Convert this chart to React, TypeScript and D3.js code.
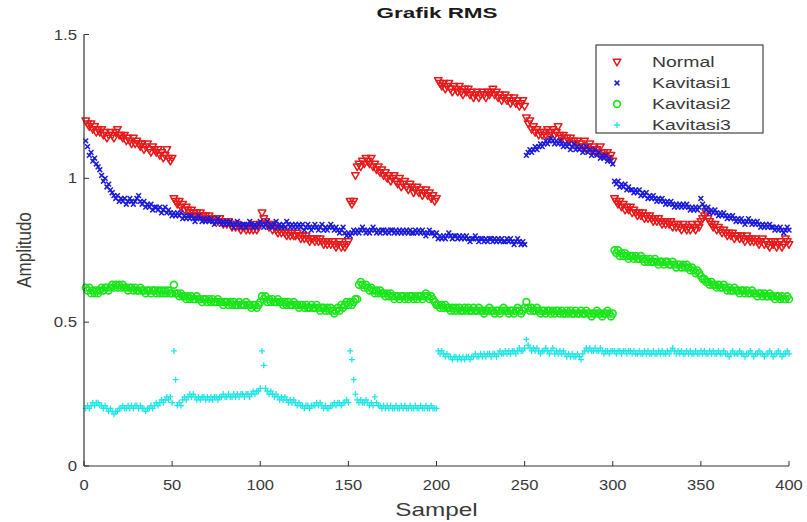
import React from "react";
import * as d3 from "d3";

const NORMAL = [
1.20,1.19,1.18,1.19,1.17,1.18,1.16,1.17,1.16,1.17,
1.15,1.16,1.14,1.15,1.16,1.15,1.14,1.16,1.17,1.15,
1.15,1.14,1.15,1.13,1.14,1.13,1.12,1.14,1.12,1.13,
1.12,1.11,1.12,1.10,1.11,1.12,1.10,1.09,1.11,1.10,
1.09,1.10,1.08,1.09,1.07,1.08,1.10,1.07,1.06,1.07,
0.93,0.92,0.91,0.92,0.90,0.91,0.89,0.90,0.89,0.88,
0.89,0.88,0.87,0.88,0.87,0.88,0.87,0.86,0.87,0.86,
0.87,0.86,0.86,0.85,0.86,0.85,0.86,0.85,0.84,0.85,
0.84,0.85,0.84,0.83,0.84,0.83,0.84,0.83,0.82,0.83,
0.83,0.82,0.83,0.82,0.83,0.82,0.84,0.82,0.83,0.84,
0.88,0.86,0.85,0.84,0.83,0.84,0.82,0.83,0.82,0.81,
0.82,0.81,0.82,0.81,0.80,0.81,0.80,0.81,0.80,0.80,
0.81,0.80,0.79,0.80,0.79,0.80,0.79,0.78,0.79,0.79,
0.78,0.79,0.78,0.79,0.78,0.77,0.78,0.77,0.78,0.77,
0.78,0.77,0.76,0.77,0.78,0.76,0.77,0.76,0.77,0.78,
0.92,0.91,0.92,1.01,1.04,1.05,1.04,1.06,1.05,1.07,
1.06,1.05,1.07,1.04,1.05,1.03,1.04,1.02,1.03,1.01,
1.02,1.00,1.01,0.99,1.00,1.01,0.99,0.98,1.00,0.97,
0.98,0.99,0.97,0.96,0.98,0.97,0.95,0.96,0.97,0.95,
0.96,0.94,0.95,0.96,0.94,0.95,0.93,0.94,0.92,0.93,
1.34,1.33,1.32,1.33,1.31,1.32,1.33,1.31,1.30,1.32,
1.31,1.30,1.32,1.30,1.29,1.31,1.30,1.31,1.29,1.30,
1.28,1.29,1.30,1.28,1.29,1.30,1.29,1.28,1.30,1.29,
1.30,1.31,1.29,1.30,1.28,1.29,1.27,1.28,1.29,1.27,
1.28,1.26,1.27,1.28,1.26,1.27,1.25,1.26,1.27,1.25,
1.21,1.19,1.20,1.17,1.18,1.16,1.17,1.15,1.16,1.15,
1.16,1.15,1.17,1.15,1.16,1.17,1.15,1.16,1.18,1.15,
1.14,1.15,1.13,1.14,1.13,1.14,1.12,1.13,1.12,1.13,
1.11,1.12,1.11,1.13,1.10,1.11,1.12,1.10,1.11,1.09,
1.10,1.09,1.11,1.08,1.09,1.08,1.09,1.07,1.08,1.06,
0.93,0.92,0.91,0.92,0.90,0.91,0.89,0.90,0.89,0.90,
0.88,0.89,0.88,0.87,0.88,0.87,0.88,0.86,0.87,0.86,
0.87,0.86,0.85,0.86,0.85,0.86,0.85,0.84,0.85,0.84,
0.85,0.84,0.85,0.83,0.84,0.83,0.84,0.83,0.82,0.84,
0.83,0.82,0.83,0.82,0.84,0.83,0.82,0.84,0.83,0.85,
0.86,0.87,0.88,0.86,0.85,0.84,0.83,0.84,0.82,0.83,
0.82,0.81,0.82,0.81,0.80,0.81,0.80,0.81,0.79,0.80,
0.80,0.79,0.80,0.79,0.78,0.80,0.79,0.78,0.79,0.78,
0.79,0.78,0.77,0.78,0.79,0.77,0.78,0.77,0.76,0.78,
0.77,0.78,0.76,0.77,0.78,0.76,0.77,0.79,0.78,0.77,
];

const KAVITASI1 = [
1.13,1.11,1.08,1.09,1.06,1.07,1.05,1.04,1.03,1.01,
0.99,1.00,0.97,0.98,0.96,0.95,0.94,0.93,0.94,0.92,
0.93,0.92,0.93,0.91,0.92,0.93,0.92,0.91,0.92,0.93,
0.94,0.92,0.91,0.92,0.90,0.91,0.90,0.91,0.89,0.90,
0.90,0.89,0.90,0.88,0.89,0.90,0.88,0.89,0.88,0.87,
0.88,0.87,0.88,0.87,0.88,0.86,0.87,0.86,0.87,0.86,
0.87,0.86,0.85,0.86,0.87,0.86,0.85,0.86,0.85,0.86,
0.85,0.86,0.85,0.84,0.85,0.86,0.85,0.84,0.85,0.84,
0.85,0.84,0.85,0.84,0.83,0.84,0.85,0.84,0.83,0.84,
0.84,0.83,0.84,0.85,0.84,0.83,0.84,0.83,0.84,0.85,
0.84,0.83,0.84,0.85,0.83,0.84,0.83,0.84,0.85,0.83,
0.84,0.83,0.84,0.83,0.85,0.84,0.83,0.84,0.83,0.84,
0.83,0.84,0.83,0.84,0.82,0.83,0.84,0.83,0.82,0.83,
0.84,0.83,0.82,0.83,0.84,0.82,0.83,0.82,0.83,0.84,
0.83,0.82,0.83,0.82,0.81,0.82,0.83,0.81,0.80,0.81,
0.80,0.81,0.82,0.81,0.82,0.81,0.82,0.83,0.82,0.81,
0.82,0.81,0.82,0.83,0.82,0.81,0.82,0.81,0.82,0.82,
0.81,0.82,0.81,0.82,0.82,0.81,0.82,0.81,0.82,0.81,
0.82,0.81,0.82,0.81,0.82,0.81,0.81,0.82,0.81,0.82,
0.81,0.82,0.81,0.80,0.81,0.82,0.81,0.81,0.80,0.81,
0.79,0.80,0.79,0.80,0.79,0.80,0.81,0.80,0.79,0.80,
0.80,0.79,0.80,0.79,0.80,0.79,0.80,0.79,0.78,0.79,
0.79,0.80,0.79,0.78,0.79,0.79,0.78,0.79,0.78,0.79,
0.79,0.78,0.79,0.78,0.79,0.78,0.79,0.78,0.78,0.79,
0.78,0.79,0.78,0.77,0.78,0.79,0.78,0.77,0.78,0.77,
1.08,1.09,1.10,1.09,1.10,1.11,1.10,1.11,1.12,1.11,
1.12,1.13,1.12,1.13,1.14,1.13,1.12,1.13,1.12,1.13,
1.12,1.11,1.12,1.11,1.12,1.10,1.11,1.12,1.10,1.11,
1.10,1.11,1.09,1.10,1.11,1.09,1.10,1.08,1.09,1.10,
1.08,1.09,1.07,1.08,1.07,1.08,1.06,1.07,1.06,1.05,
0.99,0.98,0.99,0.97,0.98,0.97,0.98,0.96,0.97,0.96,
0.96,0.95,0.96,0.95,0.96,0.94,0.95,0.94,0.95,0.93,
0.94,0.93,0.94,0.93,0.92,0.93,0.92,0.93,0.92,0.91,
0.92,0.91,0.92,0.91,0.90,0.91,0.90,0.91,0.90,0.91,
0.90,0.91,0.90,0.89,0.90,0.89,0.90,0.89,0.90,0.93,
0.91,0.90,0.89,0.90,0.88,0.89,0.88,0.89,0.88,0.87,
0.88,0.87,0.88,0.87,0.86,0.87,0.86,0.87,0.86,0.85,
0.86,0.85,0.86,0.85,0.84,0.85,0.86,0.85,0.84,0.85,
0.84,0.85,0.84,0.83,0.84,0.83,0.84,0.83,0.84,0.83,
0.83,0.82,0.83,0.82,0.83,0.82,0.81,0.82,0.83,0.82,
];

const KAVITASI2 = [
0.62,0.61,0.62,0.60,0.61,0.60,0.61,0.60,0.61,0.62,
0.61,0.62,0.62,0.61,0.62,0.63,0.62,0.63,0.62,0.63,
0.62,0.63,0.62,0.62,0.61,0.62,0.62,0.61,0.62,0.61,
0.61,0.62,0.61,0.61,0.60,0.61,0.61,0.60,0.61,0.61,
0.60,0.61,0.60,0.61,0.60,0.61,0.60,0.61,0.60,0.60,
0.63,0.60,0.60,0.59,0.60,0.59,0.59,0.58,0.59,0.58,
0.59,0.58,0.58,0.59,0.58,0.58,0.57,0.58,0.58,0.57,
0.58,0.57,0.58,0.57,0.57,0.58,0.57,0.57,0.56,0.57,
0.57,0.56,0.57,0.56,0.57,0.56,0.56,0.57,0.56,0.56,
0.56,0.57,0.56,0.56,0.55,0.56,0.56,0.55,0.56,0.57,
0.59,0.58,0.59,0.57,0.58,0.57,0.58,0.57,0.57,0.58,
0.57,0.57,0.56,0.57,0.56,0.57,0.56,0.56,0.57,0.56,
0.56,0.55,0.56,0.56,0.55,0.56,0.55,0.55,0.56,0.55,
0.55,0.56,0.55,0.54,0.55,0.55,0.54,0.55,0.54,0.55,
0.54,0.53,0.54,0.55,0.54,0.56,0.55,0.56,0.57,0.56,
0.57,0.56,0.57,0.58,0.58,0.63,0.64,0.63,0.62,0.63,
0.62,0.61,0.62,0.61,0.60,0.61,0.60,0.61,0.60,0.60,
0.59,0.60,0.59,0.60,0.59,0.58,0.59,0.59,0.58,0.59,
0.59,0.58,0.59,0.58,0.59,0.59,0.58,0.59,0.58,0.59,
0.59,0.58,0.59,0.60,0.59,0.58,0.59,0.58,0.57,0.56,
0.56,0.55,0.56,0.55,0.56,0.55,0.55,0.54,0.55,0.54,
0.55,0.54,0.55,0.54,0.54,0.55,0.54,0.55,0.54,0.54,
0.55,0.54,0.54,0.55,0.54,0.54,0.53,0.54,0.54,0.55,
0.54,0.54,0.53,0.54,0.54,0.53,0.54,0.55,0.54,0.54,
0.53,0.54,0.54,0.53,0.54,0.55,0.54,0.53,0.54,0.55,
0.57,0.55,0.54,0.55,0.54,0.54,0.55,0.54,0.53,0.54,
0.54,0.53,0.54,0.54,0.53,0.54,0.53,0.54,0.54,0.53,
0.54,0.53,0.53,0.54,0.53,0.54,0.53,0.53,0.54,0.53,
0.53,0.54,0.53,0.53,0.54,0.53,0.53,0.52,0.53,0.53,
0.54,0.53,0.53,0.52,0.53,0.53,0.54,0.53,0.52,0.53,
0.75,0.74,0.75,0.73,0.74,0.73,0.74,0.73,0.72,0.73,
0.73,0.72,0.73,0.72,0.72,0.73,0.72,0.71,0.72,0.71,
0.72,0.71,0.71,0.72,0.71,0.70,0.71,0.71,0.70,0.71,
0.71,0.70,0.70,0.71,0.70,0.69,0.70,0.70,0.69,0.70,
0.69,0.70,0.69,0.68,0.69,0.68,0.67,0.68,0.67,0.66,
0.65,0.65,0.64,0.64,0.63,0.64,0.63,0.63,0.62,0.63,
0.62,0.62,0.63,0.62,0.61,0.62,0.61,0.61,0.62,0.61,
0.61,0.60,0.61,0.61,0.60,0.61,0.60,0.60,0.61,0.60,
0.60,0.59,0.60,0.60,0.59,0.60,0.59,0.59,0.60,0.59,
0.59,0.58,0.59,0.59,0.58,0.59,0.58,0.58,0.59,0.58,
];

const KAVITASI3 = [
0.20,0.21,0.20,0.21,0.22,0.21,0.22,0.22,0.21,0.21,
0.20,0.21,0.20,0.19,0.20,0.19,0.18,0.19,0.19,0.20,
0.20,0.21,0.20,0.20,0.21,0.20,0.21,0.20,0.21,0.21,
0.20,0.21,0.20,0.20,0.19,0.20,0.20,0.21,0.20,0.21,
0.22,0.21,0.22,0.23,0.22,0.23,0.24,0.23,0.24,0.22,
0.40,0.30,0.21,0.22,0.21,0.23,0.24,0.23,0.24,0.25,
0.24,0.25,0.24,0.23,0.24,0.23,0.24,0.24,0.23,0.24,
0.23,0.24,0.23,0.24,0.24,0.23,0.24,0.24,0.25,0.24,
0.24,0.25,0.24,0.24,0.25,0.24,0.25,0.24,0.25,0.25,
0.24,0.25,0.25,0.24,0.25,0.26,0.25,0.26,0.26,0.27,
0.40,0.35,0.27,0.26,0.25,0.26,0.25,0.24,0.25,0.24,
0.23,0.24,0.23,0.24,0.23,0.22,0.23,0.22,0.23,0.22,
0.21,0.22,0.21,0.21,0.20,0.21,0.21,0.20,0.21,0.21,
0.21,0.22,0.21,0.22,0.21,0.20,0.21,0.20,0.20,0.21,
0.21,0.22,0.21,0.22,0.22,0.21,0.22,0.22,0.23,0.22,
0.40,0.37,0.30,0.25,0.23,0.22,0.23,0.22,0.22,0.23,
0.22,0.21,0.22,0.21,0.24,0.22,0.21,0.21,0.20,0.21,
0.20,0.21,0.20,0.21,0.20,0.20,0.21,0.20,0.20,0.21,
0.20,0.21,0.20,0.20,0.21,0.20,0.20,0.21,0.20,0.20,
0.21,0.20,0.20,0.21,0.20,0.20,0.21,0.20,0.20,0.20,
0.40,0.39,0.40,0.39,0.38,0.39,0.38,0.38,0.37,0.38,
0.38,0.37,0.38,0.37,0.38,0.37,0.38,0.38,0.37,0.38,
0.38,0.39,0.38,0.38,0.39,0.38,0.39,0.38,0.39,0.39,
0.38,0.39,0.39,0.38,0.39,0.40,0.39,0.39,0.40,0.39,
0.40,0.39,0.40,0.40,0.39,0.40,0.41,0.40,0.40,0.41,
0.44,0.42,0.41,0.40,0.41,0.40,0.41,0.40,0.39,0.40,
0.40,0.41,0.40,0.39,0.40,0.41,0.39,0.40,0.39,0.40,
0.39,0.40,0.39,0.38,0.39,0.38,0.39,0.38,0.38,0.39,
0.38,0.37,0.39,0.40,0.41,0.40,0.41,0.40,0.40,0.41,
0.40,0.40,0.41,0.40,0.39,0.40,0.40,0.39,0.40,0.40,
0.40,0.39,0.40,0.40,0.39,0.40,0.40,0.39,0.40,0.40,
0.39,0.40,0.39,0.39,0.40,0.39,0.39,0.40,0.39,0.40,
0.39,0.39,0.40,0.39,0.39,0.40,0.39,0.40,0.39,0.39,
0.40,0.39,0.40,0.41,0.40,0.39,0.40,0.39,0.40,0.39,
0.39,0.40,0.39,0.40,0.39,0.39,0.40,0.39,0.39,0.40,
0.39,0.40,0.39,0.39,0.40,0.39,0.40,0.39,0.39,0.40,
0.39,0.39,0.40,0.39,0.39,0.38,0.39,0.40,0.39,0.39,
0.39,0.40,0.39,0.39,0.38,0.39,0.39,0.40,0.39,0.38,
0.39,0.39,0.40,0.39,0.39,0.38,0.39,0.39,0.40,0.39,
0.38,0.39,0.39,0.40,0.39,0.38,0.39,0.39,0.40,0.39,
];

const SERIES_NAMES = ["Normal", "Kavitasi1", "Kavitasi2", "Kavitasi3"];
const SERIES_COLORS = ["#e8191b", "#1a1adf", "#19e619", "#1ee6e6"];
const X_TICKS = [0, 50, 100, 150, 200, 250, 300, 350, 400];
const Y_TICKS = [0, 0.5, 1, 1.5];
const Y_TICK_LABELS = ["0", "0.5", "1", "1.5"];

const W = 807;
const H = 522;
const FONT = "'Liberation Sans', Arial, Helvetica, sans-serif";
const AXIS_COLOR = "#333";
const TEXT_COLOR = "#3a3a3a";

const x = d3.scaleLinear().domain([0, 400]).range([84, 789]);
const y = d3.scaleLinear().domain([0, 1.5]).range([466, 34.5]);

const SHAPES = ["tri", "x", "circle", "plus"];

function Marker({ shape, cx, cy, color }: { shape: string; cx: number; cy: number; color: string }) {
  if (shape === "tri") {
    return (
      <path
        d={`M${cx - 3.8},${cy - 2.8}L${cx + 3.8},${cy - 2.8}L${cx},${cy + 3.8}Z`}
        fill="none"
        stroke={color}
        strokeWidth={1.5}
        strokeLinejoin="round"
      />
    );
  }
  if (shape === "x") {
    const s = 2.4;
    return (
      <path
        d={`M${cx - s},${cy - s}L${cx + s},${cy + s}M${cx - s},${cy + s}L${cx + s},${cy - s}`}
        fill="none"
        stroke={color}
        strokeWidth={1.5}
      />
    );
  }
  if (shape === "circle") {
    return <circle cx={cx} cy={cy} r={3.4} fill="none" stroke={color} strokeWidth={1.6} />;
  }
  const s = 3;
  return (
    <path
      d={`M${cx - s},${cy}L${cx + s},${cy}M${cx},${cy - s}L${cx},${cy + s}`}
      fill="none"
      stroke={color}
      strokeWidth={1.3}
    />
  );
}

function SText({
  x: tx,
  y: ty,
  sx = 1,
  anchor = "start",
  size,
  weight = "normal",
  fill = TEXT_COLOR,
  rotate = 0,
  children,
}: {
  x: number;
  y: number;
  sx?: number;
  anchor?: string;
  size: number;
  weight?: string;
  fill?: string;
  rotate?: number;
  children: React.ReactNode;
}) {
  return (
    <text
      transform={`translate(${tx},${ty}) rotate(${rotate}) scale(${sx},1)`}
      textAnchor={anchor}
      fontSize={size}
      fontWeight={weight}
      fill={fill}
    >
      {children}
    </text>
  );
}

export default function App() {
  const data = [NORMAL, KAVITASI1, KAVITASI2, KAVITASI3];
  const legendX = 596;
  const legendY = 45;
  const legendW = 167;
  const legendH = 88;
  return (
    <svg
      width={W}
      height={H}
      style={{ position: "absolute", left: 0, top: 0, background: "#fff" }}
      fontFamily={FONT}
    >
      <rect width={W} height={H} fill="#fff" />
      {data.map((vals, si) => (
        <g key={si}>
          {vals.map((v, i) => (
            <Marker key={i} shape={SHAPES[si]} cx={x(i + 1)} cy={y(v)} color={SERIES_COLORS[si]} />
          ))}
        </g>
      ))}
      <line x1={x(0)} x2={x(0)} y1={y(1.5)} y2={y(0)} stroke={AXIS_COLOR} strokeWidth={1.2} />
      <line x1={x(0)} x2={x(400)} y1={y(0)} y2={y(0)} stroke={AXIS_COLOR} strokeWidth={1.2} />
      {Y_TICKS.map((t, i) => (
        <g key={t}>
          <line x1={x(0)} x2={x(0) + 5} y1={y(t)} y2={y(t)} stroke={AXIS_COLOR} />
          <SText x={x(0) - 7} y={y(t) + 5} anchor="end" size={15} sx={1.12}>
            {Y_TICK_LABELS[i]}
          </SText>
        </g>
      ))}
      {X_TICKS.map((t) => (
        <g key={t}>
          <line x1={x(t)} x2={x(t)} y1={y(0)} y2={y(0) - 5} stroke={AXIS_COLOR} />
          <SText x={x(t)} y={y(0) + 24} anchor="middle" size={15} sx={1.1}>
            {t}
          </SText>
        </g>
      ))}
      <SText x={437} y={18} anchor="middle" size={15} weight="bold" sx={1.5} fill="#1a1a1a">
        Grafik RMS
      </SText>
      <SText x={436.5} y={516} anchor="middle" size={18} sx={1.35}>
        Sampel
      </SText>
      <text
        transform={`translate(31,250) scale(1.2,1) rotate(-90)`}
        textAnchor="middle"
        fontSize={17}
        fill={TEXT_COLOR}
      >
        Amplitudo
      </text>
      <rect x={legendX} y={legendY} width={legendW} height={legendH} fill="#fff" stroke="#444" strokeWidth={1.2} />
      {SERIES_NAMES.map((name, si) => {
        const cy = legendY + 17 + si * 21;
        return (
          <g key={name}>
            <Marker shape={SHAPES[si]} cx={legendX + 21} cy={cy} color={SERIES_COLORS[si]} />
            <SText x={legendX + 56} y={cy + 5} size={14.5} sx={1.34}>
              {name}
            </SText>
          </g>
        );
      })}
    </svg>
  );
}
